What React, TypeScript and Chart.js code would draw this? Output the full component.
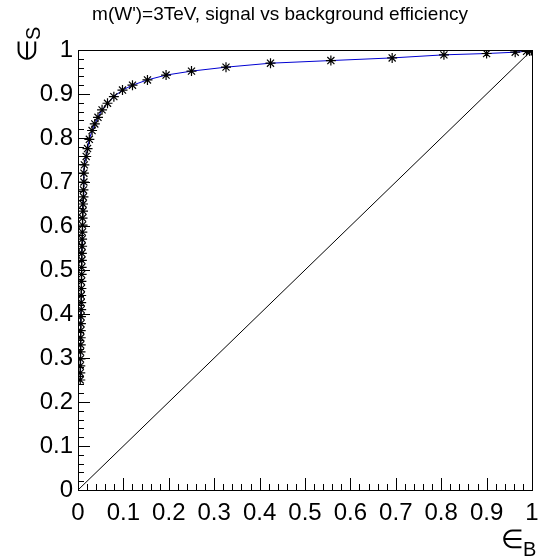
import React, { useEffect, useRef } from "react";
import { Chart, registerables } from "chart.js";

Chart.register(...registerables);

const TITLE = "m(W')=3TeV, signal vs background efficiency";
const X_TITLE_MAIN = "∈";
const X_TITLE_SUB = "B";
const Y_TITLE_MAIN = "∈";
const Y_TITLE_SUB = "S";

// background efficiency (x) and signal efficiency (y)
const effB = [
  0.005, 0.005, 0.005, 0.0055, 0.0055, 0.006, 0.006, 0.006, 0.0065, 0.0065,
  0.007, 0.007, 0.007, 0.0075, 0.0075, 0.008, 0.008, 0.0085, 0.0085, 0.009,
  0.009, 0.0095, 0.010, 0.010, 0.011, 0.011, 0.012, 0.012, 0.013,
  0.013, 0.014, 0.018, 0.021, 0.025, 0.031, 0.037, 0.044, 0.053, 0.065,
  0.079, 0.098, 0.120, 0.153, 0.194, 0.250, 0.326, 0.424, 0.557, 0.692,
  0.806, 0.900, 0.963, 0.988, 0.995, 0.999, 1.0,
];
const effS = [
  0.250, 0.266, 0.282, 0.298, 0.314, 0.330, 0.346, 0.362, 0.378, 0.394,
  0.410, 0.426, 0.442, 0.458, 0.474, 0.490, 0.506, 0.522, 0.538, 0.554,
  0.570, 0.586, 0.602, 0.618, 0.634, 0.650, 0.666, 0.682, 0.700,
  0.720, 0.739, 0.758, 0.776, 0.797, 0.817, 0.832, 0.847, 0.864, 0.879,
  0.894, 0.909, 0.920, 0.932, 0.943, 0.952, 0.961, 0.970, 0.976, 0.982,
  0.989, 0.992, 0.995, 0.997, 0.998, 0.999, 1.0,
];
const diagX = [0, 1];
const diagY = [0, 1];

const TICK_VALUES = [0, 0.1, 0.2, 0.3, 0.4, 0.5, 0.6, 0.7, 0.8, 0.9, 1];
const TICK_LABELS = ["0", "0.1", "0.2", "0.3", "0.4", "0.5", "0.6", "0.7", "0.8", "0.9", "1"];

const FONT = "'Liberation Sans', Arial, sans-serif";

const framePlugin = {
  id: "rootFrame",
  afterDraw(chart: any) {
    const { ctx, chartArea } = chart;
    const { left, right, top, bottom } = chartArea;
    const xs = chart.scales.x;
    const ys = chart.scales.y;
    ctx.save();
    ctx.strokeStyle = "#000";
    ctx.lineWidth = 1;
    ctx.strokeRect(Math.round(left) + 0.5, Math.round(top) + 0.5, Math.round(right - left), Math.round(bottom - top));
    ctx.beginPath();
    for (let i = 0; i <= 50; i++) {
      const v = i / 50;
      const len = i % 5 === 0 ? 12 : 6;
      const px = Math.round(xs.getPixelForValue(v)) + 0.5;
      ctx.moveTo(px, Math.round(bottom));
      ctx.lineTo(px, Math.round(bottom) - len);
      const py = Math.round(ys.getPixelForValue(v)) + 0.5;
      ctx.moveTo(Math.round(left), py);
      ctx.lineTo(Math.round(left) + len, py);
    }
    ctx.stroke();

    ctx.fillStyle = "#000";
    ctx.textBaseline = "alphabetic";
    ctx.textAlign = "left";
    // x axis title
    ctx.font = `26px ${FONT}`;
    ctx.fillText(X_TITLE_MAIN, 501, 548);
    const wx = ctx.measureText(X_TITLE_MAIN).width;
    ctx.font = `20px ${FONT}`;
    ctx.fillText(X_TITLE_SUB, 500 + wx, 556);
    // y axis title (rotated)
    ctx.translate(36, 62);
    ctx.rotate(-Math.PI / 2);
    ctx.font = `26px ${FONT}`;
    ctx.fillText(Y_TITLE_MAIN, 0, 0);
    const wy = ctx.measureText(Y_TITLE_MAIN).width;
    ctx.font = `20px ${FONT}`;
    ctx.fillText(Y_TITLE_SUB, wy - 1, 4);
    ctx.restore();
  },
};

export default function App() {
  const ref = useRef<HTMLCanvasElement | null>(null);
  useEffect(() => {
    if (!ref.current) return;
    const points = effB.map((x, i) => ({ x, y: effS[i] }));
    const diag = diagX.map((x, i) => ({ x, y: diagY[i] }));
    const chart = new Chart(ref.current, {
      type: "scatter",
      data: {
        datasets: [
          {
            data: diag,
            showLine: true,
            borderColor: "#000",
            borderWidth: 1,
            pointRadius: 0,
          },
          {
            data: points,
            showLine: true,
            borderColor: "rgb(0,0,210)",
            borderWidth: 1,
            pointStyle: "star",
            pointRadius: 5,
            pointBorderColor: "#000",
            pointBackgroundColor: "#000",
            pointBorderWidth: 1.2,
          },
        ],
      },
      options: {
        animation: false,
        responsive: false,
        layout: { padding: { left: 21, right: 0, top: 0, bottom: 0 } },
        plugins: {
          legend: { display: false },
          tooltip: { enabled: false },
          title: {
            display: true,
            text: TITLE,
            color: "#000",
            font: { family: FONT, size: 19, weight: "normal", lineHeight: 1.2 },
            padding: { top: 3, bottom: 24.2 },
          },
        },
        scales: {
          x: {
            type: "linear",
            min: 0,
            max: 1,
            afterBuildTicks: (s: any) => {
              s.ticks = TICK_VALUES.map((v) => ({ value: v }));
            },
            afterFit: (s: any) => {
              s.height = 70;
              s.paddingRight = 7;
              s.paddingLeft = 0;
            },
            grid: { display: false, drawTicks: false },
            border: { display: false },
            ticks: {
              color: "#000",
              padding: 9,
              maxRotation: 0,
              autoSkip: false,
              font: { family: FONT, size: 24 },
              callback: (_v: any, i: number) => TICK_LABELS[i],
            },
          },
          y: {
            type: "linear",
            min: 0,
            max: 1,
            afterBuildTicks: (s: any) => {
              s.ticks = TICK_VALUES.map((v) => ({ value: v }));
            },
            afterFit: (s: any) => {
              s.width = 57;
            },
            grid: { display: false, drawTicks: false },
            border: { display: false },
            ticks: {
              color: "#000",
              padding: 5,
              autoSkip: false,
              font: { family: FONT, size: 24 },
              callback: (_v: any, i: number) => TICK_LABELS[i],
            },
          },
        },
      },
      plugins: [framePlugin],
    });
    return () => chart.destroy();
  }, []);
  return (
    <div style={{ position: "absolute", left: 0, top: 0, width: 539, height: 560 }}>
      <canvas ref={ref} width={539} height={560} />
    </div>
  );
}
